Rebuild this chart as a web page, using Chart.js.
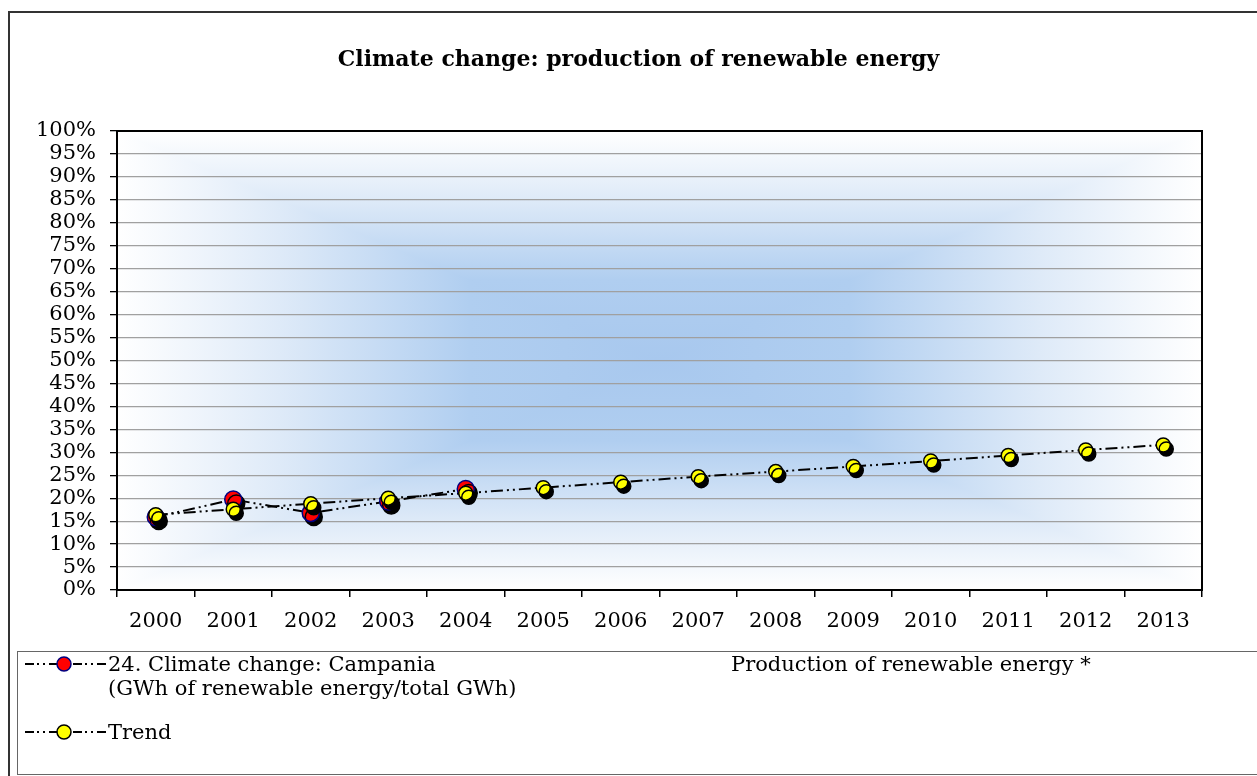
<!DOCTYPE html>
<html>
<head>
<meta charset="utf-8">
<script src="https://cdn.jsdelivr.net/npm/chart.js@4.4.1/dist/chart.umd.min.js"></script>
<style>
  html, body { margin:0; padding:0; background:#fff; }
  body { width:1257px; height:776px; position:relative; overflow:hidden; font-family:"DejaVu Serif", serif; color:#000; }
  #c { position:absolute; left:0; top:0; }
  .frameL { position:absolute; left:8px; top:11px; width:2px; height:800px; background:#333; }
  .frameT { position:absolute; left:8px; top:11px; width:1300px; height:2px; background:#333; }
  #title { position:absolute; left:0; width:1277px; top:44px; text-align:center; font-weight:bold; font-size:22px; line-height:28px; }
  #legend { position:absolute; left:17px; top:651px; width:1300px; height:124px; border:1.5px solid #666; box-sizing:border-box; }
  .lg { position:absolute; font-size:21px; line-height:24px; white-space:nowrap; }
  .sym { position:absolute; }
</style>
</head>
<body>
<div class="frameL"></div>
<div class="frameT"></div>
<canvas id="c" width="1257" height="776"></canvas>
<div id="title">Climate change: production of renewable energy</div>
<div id="legend"></div>
<script>
const years = ["2000","2001","2002","2003","2004","2005","2006","2007","2008","2009","2010","2011","2012","2013"];
const campania = [15.9, 19.7, 16.8, 19.3, 22.0, null, null, null, null, null, null, null, null, null];
const trend = [16.4, 17.6, 18.8, 20.0, 21.1, 22.3, 23.5, 24.7, 25.8, 26.9, 28.1, 29.3, 30.5, 31.6];
const seriesNames = ["24. Climate change: Campania", "(GWh of renewable energy/total GWh)", "Trend"];
const sideNote = "Production of renewable energy *";

const FONT = "'DejaVu Serif', serif";
const dash = [12, 4, 2, 4, 2, 4];

// gradient stops: distance from centre (0) to edge (1)
const STOPS = [[0, 'rgb(168,200,238)'], [0.35, 'rgb(176,206,240)'], [0.7, 'rgb(222,234,248)'], [1, 'rgb(255,255,255)']];
function mirrored(g) {
  for (const [t, c] of STOPS) {
    g.addColorStop(0.5 - t / 2, c);
    g.addColorStop(0.5 + t / 2, c);
  }
}

const bgPlugin = {
  id: 'bg',
  beforeDraw(chart) {
    const {ctx, chartArea: a} = chart;
    const cx = (a.left + a.right) / 2, cy = (a.top + a.bottom) / 2;
    ctx.save();
    ctx.beginPath(); ctx.rect(a.left, a.top, a.right - a.left, a.bottom - a.top); ctx.clip();
    // horizontal component everywhere
    const gh = ctx.createLinearGradient(a.left, 0, a.right, 0);
    mirrored(gh);
    ctx.fillStyle = gh;
    ctx.fillRect(a.left, a.top, a.right - a.left, a.bottom - a.top);
    // vertical component in top and bottom triangles
    const gv = ctx.createLinearGradient(0, a.top, 0, a.bottom);
    mirrored(gv);
    ctx.fillStyle = gv;
    ctx.beginPath();
    ctx.moveTo(a.left, a.top); ctx.lineTo(a.right, a.top); ctx.lineTo(cx, cy); ctx.closePath();
    ctx.moveTo(a.left, a.bottom); ctx.lineTo(a.right, a.bottom); ctx.lineTo(cx, cy); ctx.closePath();
    ctx.fill();
    ctx.restore();
  },
  beforeDatasetsDraw(chart) {
    const {ctx, chartArea: a} = chart;
    ctx.save();
    ctx.strokeStyle = '#000'; ctx.lineWidth = 2;
    ctx.strokeRect(a.left, a.top, a.right - a.left, a.bottom - a.top);
    ctx.restore();
  },
  beforeDatasetDraw(chart, args) {
    const ds = chart.data.datasets[args.index];
    if (ds.shadowPts) {
      const ctx = chart.ctx;
      ctx.save();
      ctx.shadowColor = '#000';
      ctx.shadowOffsetX = 3; ctx.shadowOffsetY = 4; ctx.shadowBlur = 0;
    }
  },
  afterDatasetDraw(chart, args) {
    const ds = chart.data.datasets[args.index];
    if (ds.shadowPts) chart.ctx.restore();
  }
};

new Chart(document.getElementById('c'), {
  type: 'line',
  data: {
    labels: years,
    datasets: [
      { label: 'campLine', data: campania, borderColor: '#000', borderWidth: 2, borderDash: dash, pointRadius: 0, fill: false, order: 4, spanGaps: false },
      { label: 'trendLine', data: trend, borderColor: '#000', borderWidth: 2, borderDash: dash, pointRadius: 0, fill: false, order: 3 },
      { label: 'campPts', data: campania, showLine: false, pointRadius: 8.5, pointBackgroundColor: '#ff0000', pointBorderColor: '#000080', pointBorderWidth: 1.5, order: 2, shadowPts: true },
      { label: 'trendPts', data: trend, showLine: false, pointRadius: 7, pointBackgroundColor: '#ffff00', pointBorderColor: '#000', pointBorderWidth: 1.5, order: 1, shadowPts: true }
    ]
  },
  options: {
    responsive: false,
    devicePixelRatio: 1,
    animation: false,
    layout: { padding: { left: 0, right: 55, top: 131, bottom: 136 } },
    plugins: { legend: { display: false }, title: { display: false }, tooltip: { enabled: false } },
    scales: {
      x: {
        offset: true,
        grid: { offset: true, drawOnChartArea: false, drawTicks: true, tickLength: 7, tickColor: '#000', lineWidth: 1.5 },
        border: { color: '#000', width: 2 },
        ticks: { color: '#000', font: { family: FONT, size: 21 }, padding: 12, maxRotation: 0, autoSkip: false },
        afterFit(s) { s.height = 50; }
      },
      y: {
        min: 0, max: 100,
        grid: { color: '#a0a0a0', lineWidth: 1.3, tickLength: 7, tickColor: '#000' },
        border: { color: '#000', width: 2 },
        ticks: { stepSize: 5, autoSkip: false, color: '#000', font: { family: FONT, size: 21 }, padding: 14, callback: v => v + '%' },
        afterFit(s) { s.width = 117; }
      }
    }
  },
  plugins: [bgPlugin]
});

// legend (HTML)
function sym(fill, stroke) {
  return `<svg width="84" height="18" viewBox="0 0 84 18"><line x1="0" y1="9" x2="82" y2="9" stroke="#000" stroke-width="2" stroke-dasharray="9,3,2,4,2,4"/><circle cx="39" cy="9" r="7" fill="${fill}" stroke="${stroke}" stroke-width="1.5"/></svg>`;
}
const lg = document.getElementById('legend');
lg.innerHTML =
  `<div class="sym" style="left:7px;top:3px">${sym('#ff0000', '#000080')}</div>` +
  `<div class="lg" style="left:90px;top:0px">${seriesNames[0]}</div>` +
  `<div class="lg" style="left:90px;top:24px">${seriesNames[1]}</div>` +
  `<div class="sym" style="left:7px;top:71px">${sym('#ffff00', '#000')}</div>` +
  `<div class="lg" style="left:90px;top:68px">${seriesNames[2]}</div>` +
  `<div class="lg" style="left:713px;top:0px">${sideNote}</div>`;
</script>
</body>
</html>
